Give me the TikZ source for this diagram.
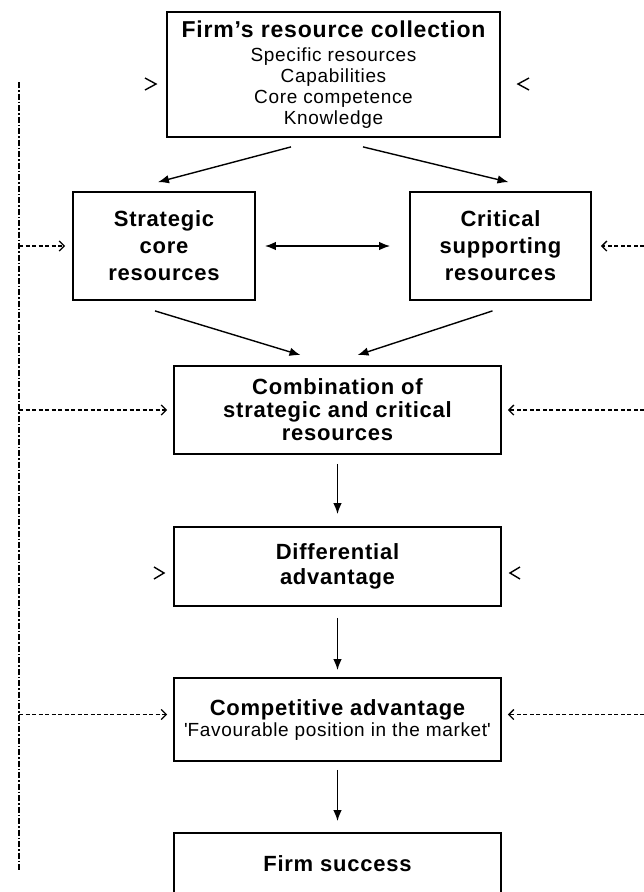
\documentclass[tikz,border=0pt]{standalone}
\usepackage{fontspec}
\setmainfont[LetterSpace=3.5]{Liberation Sans}
\usetikzlibrary{arrows.meta}
\begin{document}
\begin{tikzpicture}[x=1pt,y=-1pt,
  box/.style={draw,line width=1.8pt,align=center,inner sep=0pt},
  tip/.style={Latex[length=11pt,width=8.5pt]},
  arr/.style={line width=1.4pt,-{Latex[length=11pt,width=8.5pt]}},
  darr/.style={line width=1.3pt,dash pattern=on 4pt off 2.5pt,-{Straight Barb[length=5pt,width=10pt,line width=1.3pt]}},
  vline/.style={line width=1.5pt,dash pattern=on 6pt off 2pt on 1.5pt off 2pt},
  chev/.style={line width=1.4pt}
]
\useasboundingbox (0,0) rectangle (644,892);
\clip (0,0) rectangle (644,892);
\fill[white] (0,0) rectangle (644,892);

\node[box,minimum width=333pt,minimum height=125pt,font=\fontsize{19}{21}\selectfont] (top) at (333.5,74.5)
  {{\fontsize{23}{25}\selectfont\bfseries Firm's resource collection}\\[3pt]Specific resources\\Capabilities\\Core competence\\Knowledge};
\node[box,minimum width=182pt,minimum height=108pt,font=\fontsize{22}{27}\selectfont\bfseries] (strat) at (164,246)
  {Strategic\\core\\resources};
\node[box,minimum width=181pt,minimum height=108pt,font=\fontsize{22}{27}\selectfont\bfseries] (crit) at (500.5,246)
  {Critical\\supporting\\resources};
\node[box,minimum width=327pt,minimum height=88pt,font=\fontsize{22}{23}\selectfont\bfseries] (comb) at (337.5,410)
  {Combination of\\strategic and critical\\resources};
\node[box,minimum width=327pt,minimum height=79pt,font=\fontsize{22}{25}\selectfont\bfseries] (diff) at (337.5,566.5)
  {Differential\\advantage};
\node[box,minimum width=327pt,minimum height=83pt,font=\fontsize{22}{21}\selectfont\bfseries] (comp) at (337.5,719.5)
  {Competitive advantage\\{\fontsize{19}{21}\selectfont\mdseries \textquotesingle Favourable position in the market\textquotesingle}};
\node[box,minimum width=327pt,minimum height=62pt,font=\fontsize{22}{25}\selectfont\bfseries] (firm) at (337.5,864)
  {Firm success};

% solid arrows
\draw[arr] ([xshift=-42.5pt,yshift=-9pt]top.south) -- ([xshift=-6pt,yshift=9pt]strat.north);
\draw[arr] ([xshift=29.5pt,yshift=-9pt]top.south) -- ([xshift=8pt,yshift=9pt]crit.north);
\draw[arr] ([xshift=-9pt,yshift=-10pt]strat.south) -- ([xshift=-37pt,yshift=10pt]comb.north);
\draw[arr] ([xshift=-8pt,yshift=-10pt]crit.south) -- ([xshift=20pt,yshift=10pt]comb.north);
\draw[line width=1.4pt,{Latex[length=11pt,width=8.5pt]}-{Latex[length=11pt,width=8.5pt]}]
  ([xshift=9pt]strat.east) -- ([xshift=-19pt]crit.west);
\draw[arr,shorten <=9pt,shorten >=12pt] (comb.south) -- (diff.north);
\draw[arr,shorten <=11pt,shorten >=7pt] (diff.south) -- (comp.north);
\draw[arr,shorten <=8pt,shorten >=11pt] (comp.south) -- (firm.north);

% feedback line and dashed arrows
\coordinate (vt) at (19,82);
\coordinate (vb) at (19,870);
\coordinate (re) at (644,82);
\draw[vline] (vt) -- (vb);
\draw[darr] (strat.west -| vt) -- ([xshift=-7pt]strat.west);
\draw[darr] (crit.east -| re) -- ([xshift=9pt]crit.east);
\draw[darr] (comb.west -| vt) -- ([xshift=-6pt]comb.west);
\draw[darr] (comb.east -| re) -- ([xshift=6pt]comb.east);
\draw[darr] ([yshift=5pt]comp.west -| vt) -- ([xshift=-6pt,yshift=5pt]comp.west);
\draw[darr] ([yshift=5pt]comp.east -| re) -- ([xshift=6pt,yshift=5pt]comp.east);

% lone chevrons
\draw[chev] (145,78) -- (156,84) -- (145,90);
\draw[chev] (529,78) -- (518,84) -- (529,90);
\draw[chev] (154,567) -- (164,573) -- (154,579);
\draw[chev] (520,567) -- (510,573) -- (520,579);
\end{tikzpicture}
\end{document}
